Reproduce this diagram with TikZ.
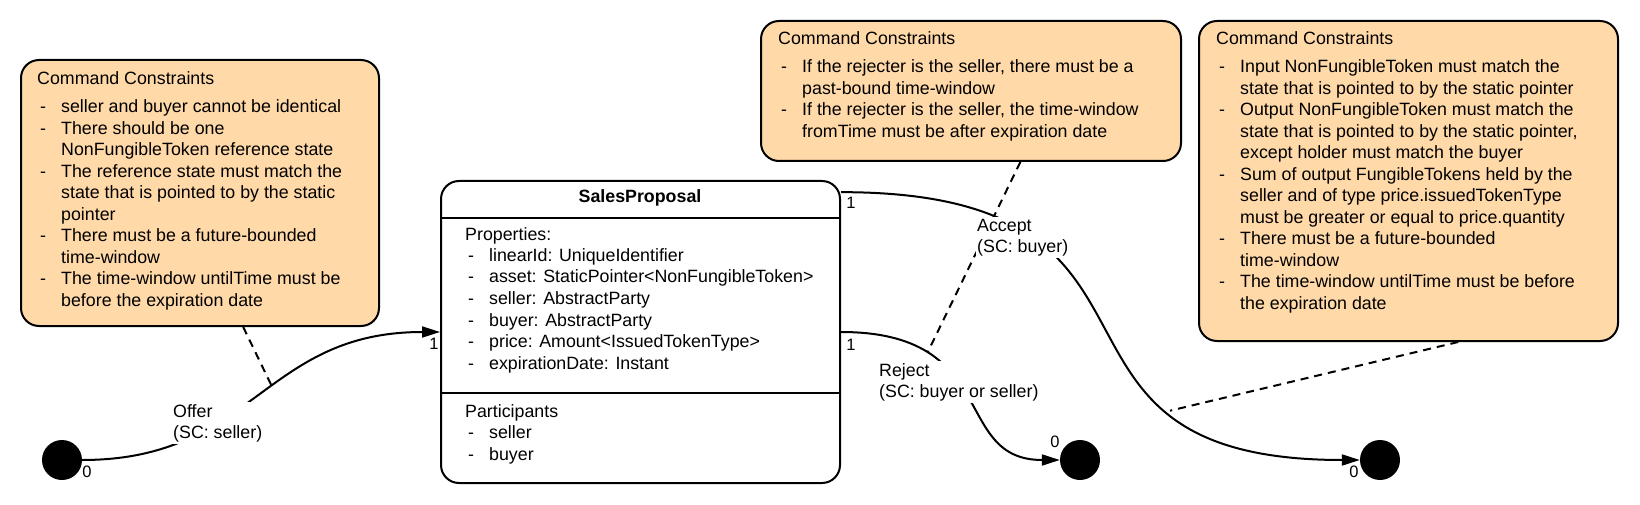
\documentclass[tikz,border=0pt]{standalone}
\usepackage{fontspec}
\setmainfont{Liberation Sans}
\usetikzlibrary{arrows.meta,calc}
\definecolor{boxfill}{HTML}{FFD9A8}
\newcommand\bhead[1]{\hbox{#1}}
\newcommand\bitem[1]{\hbox{\hbox to 24pt{\hskip3pt-\hss}#1}}
\newcommand\bcont[1]{\hbox{\hskip24pt#1}}
\tikzset{
  mainfont/.style={font=\fontsize{17.8pt}{21.5pt}\selectfont},
  boldfont/.style={font=\fontsize{17.8pt}{21.5pt}\selectfont\bfseries},
  cbox/.style={draw=black, line width=2pt, fill=boxfill, rounded corners=18pt, anchor=north west, inner sep=0pt},
  wbox/.style={draw=black, line width=2pt, fill=white, rounded corners=18pt, anchor=north west, inner sep=0pt},
  txt/.style={mainfont, anchor=base west, inner sep=0pt},
  lbl/.style={mainfont, anchor=base west, fill=white, inner xsep=1pt, inner ysep=2pt},
  mult/.style={font=\fontsize{16.5pt}{19pt}\selectfont, inner sep=0pt, anchor=center},
  endpt/.style={circle, fill=black, minimum size=40pt, inner sep=0pt},
  conn/.style={line width=2pt, -{Triangle[length=18pt,width=11pt]}},
  dline/.style={line width=2pt, dash pattern=on 8pt off 6pt},
}
\begin{document}
\begin{tikzpicture}[x=1pt,y=-1pt]
\useasboundingbox (0,0) rectangle (1640,505);

% constraint boxes
\node[cbox, minimum width=358pt, minimum height=266pt] (c1) at (20,59) {};
\node[cbox, minimum width=420pt, minimum height=140pt] (c2) at (760,20) {};
\node[cbox, minimum width=419pt, minimum height=320pt] (c3) at (1198,20) {};

% SalesProposal box
\node[wbox, minimum width=399pt, minimum height=302pt] (sp) at (440,180) {};
\draw[line width=2pt] ($(sp.north west)+(0,38)$) -- ($(sp.north east)+(0,38)$);
\draw[line width=2pt] ($(sp.north west)+(0,213)$) -- ($(sp.north east)+(0,213)$);

% start / end states
\node[endpt] (i0) at (62,460) {};
\node[endpt] (e1) at (1080,460) {};
\node[endpt] (e2) at (1380,460) {};

% texts in constraint boxes
\node[txt] (t1) at (37,85) {\vtop{%
  \bhead{Command Constraints}\vskip6.5pt
  \bitem{seller and buyer cannot be identical}
  \bitem{There should be one}
  \bcont{NonFungibleToken reference state}
  \bitem{The reference state must match the}
  \bcont{state that is pointed to by the static}
  \bcont{pointer}
  \bitem{There must be a future-bounded}
  \bcont{time-window}
  \bitem{The time-window untilTime must be}
  \bcont{before the expiration date}}};

\node[txt] (t2) at (778,45) {\vtop{%
  \bhead{Command Constraints}\vskip6.5pt
  \bitem{If the rejecter is the seller, there must be a}
  \bcont{past-bound time-window}
  \bitem{If the rejecter is the seller, the time-window}
  \bcont{fromTime must be after expiration date}}};

\node[txt] (t3) at (1216,45) {\vtop{%
  \bhead{Command Constraints}\vskip6.5pt
  \bitem{Input NonFungibleToken must match the}
  \bcont{state that is pointed to by the static pointer}
  \bitem{Output NonFungibleToken must match the}
  \bcont{state that is pointed to by the static pointer,}
  \bcont{except holder must match the buyer}
  \bitem{Sum of output FungibleTokens held by the}
  \bcont{seller and of type price.issuedTokenType}
  \bcont{must be greater or equal to price.quantity}
  \bitem{There must be a future-bounded}
  \bcont{time-window}
  \bitem{The time-window untilTime must be before}
  \bcont{the expiration date}}};

% SalesProposal texts
\node[boldfont, anchor=base, inner sep=0pt] (sptitle) at (640,202) {SalesProposal};
\node[txt] (sprops) at (465,240) {\vtop{%
  \bhead{Properties:}
  \bitem{linearId: UniqueIdentifier}
  \bitem{asset: StaticPointer<NonFungibleToken>}
  \bitem{seller: AbstractParty}
  \bitem{buyer: AbstractParty}
  \bitem{price: Amount<IssuedTokenType>}
  \bitem{expirationDate: Instant}}};
\node[txt] (sparts) at (465,417) {\vtop{%
  \bhead{Participants}
  \bitem{seller}
  \bitem{buyer}}};

% transitions
\coordinate (accs) at ($(sp.north east)!0.04!(sp.south east)$);
\draw[conn] (i0.east) .. controls +(172,0) and +(-177,0) .. (sp.west) coordinate[pos=0.547] (od);
\draw[conn] (accs) .. controls +(372,0) and +(-358,0) .. (e2.west) coordinate[pos=0.726] (ad);
\draw[conn] (sp.east) .. controls +(161,0) and +(-109,0) .. (e1.west) coordinate[pos=0.25] (rd);

% dashed note connectors
\draw[dline] ($(c1.south west)!0.62!(c1.south east)$) -- (od);
\draw[dline] ($(c2.south west)!0.617!(c2.south east)$) -- (rd);
\draw[dline] ($(c3.south west)!0.618!(c3.south east)$) -- (ad);

% transition labels
\node[lbl] (offl) at (172,417) {\vtop{\bhead{Offer}\bhead{(SC: seller)}}};
\node[lbl] (accl) at (976,231) {\vtop{\bhead{Accept}\bhead{(SC: buyer)}}};
\node[lbl] (rejl) at (878,376) {\vtop{\bhead{Reject}\bhead{(SC: buyer or seller)}}};

% multiplicities
\node[mult] (m1) at (434,344) {1};
\node[mult] (m2) at (851,203) {1};
\node[mult] (m3) at (851,345) {1};
\node[mult] (m4) at (87,472) {0};
\node[mult] (m5) at (1055,442) {0};
\node[mult] (m6) at (1354,472) {0};
\end{tikzpicture}
\end{document}
